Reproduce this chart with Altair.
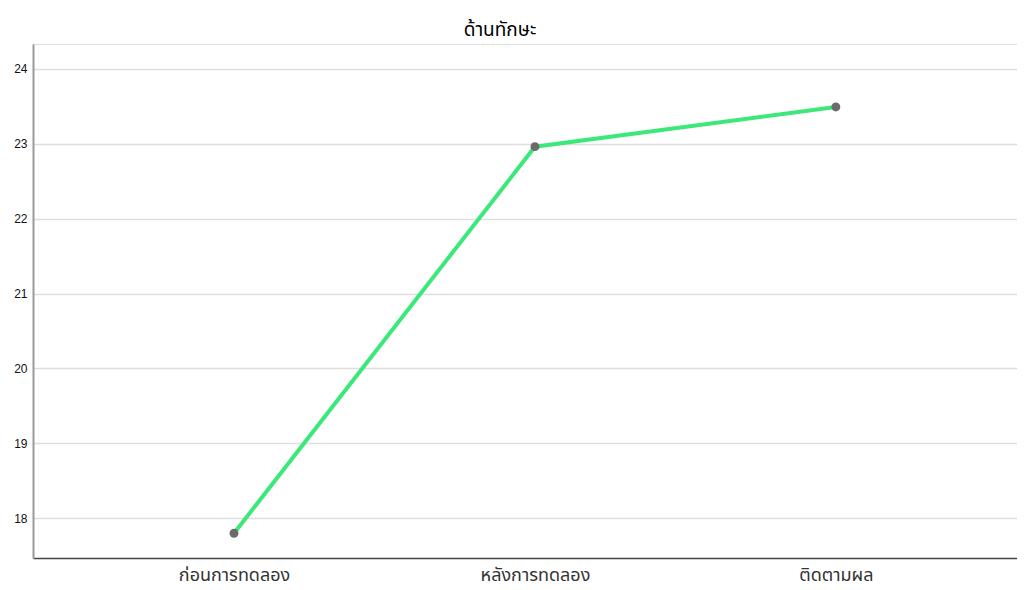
import altair as alt
import pandas as pd

categories = ["ก่อนการทดลอง", "หลังการทดลอง", "ติดตามผล"]
values = [17.80, 22.96, 23.49]
y_ticks = [18, 19, 20, 21, 22, 23, 24]

df = pd.DataFrame({"phase": categories, "score": values})

x = alt.X("phase:N", sort=categories, title=None,
          scale=alt.Scale(type="point", padding=0.635, align=0.526),
          axis=alt.Axis(labelAngle=0, labelFont="Noto Sans Thai, Noto Sans", labelFontSize=18,
                        labelFontWeight="normal", labelColor="#333333", labelPadding=8,
                        ticks=False, domainColor="#444444", domainWidth=1.5, grid=False))
y = alt.Y("score:Q", title=None,
          scale=alt.Scale(domain=[17.47, 24.33], nice=False, zero=False),
          axis=alt.Axis(values=y_ticks, labelFont="Liberation Sans", labelFontSize=12,
                        labelColor="#111111", labelPadding=6, ticks=False,
                        domainColor="#999999", domainWidth=2,
                        gridColor="#dedede", gridWidth=1.5))

line = alt.Chart(df).mark_line(color="#3de87a", strokeWidth=4).encode(x=x, y=y)
pts = alt.Chart(df).mark_circle(color="#6b6b6b", size=80, opacity=1).encode(x=x, y=y)

chart = (line + pts).properties(
    width=984, height=514,
    title=alt.TitleParams("ด้านทักษะ", font="Noto Sans Thai, Noto Sans", fontSize=19,
                          fontWeight="normal", color="#000000", anchor="middle",
                          dx=-25, offset=4),
    autosize=alt.AutoSizeParams(type="none"),
    padding={"left": 25, "top": 36, "right": 0, "bottom": 32},
).configure_view(stroke=None).configure(background="white")

chart.save("out.html", embed_options={"renderer": "svg", "actions": False})
